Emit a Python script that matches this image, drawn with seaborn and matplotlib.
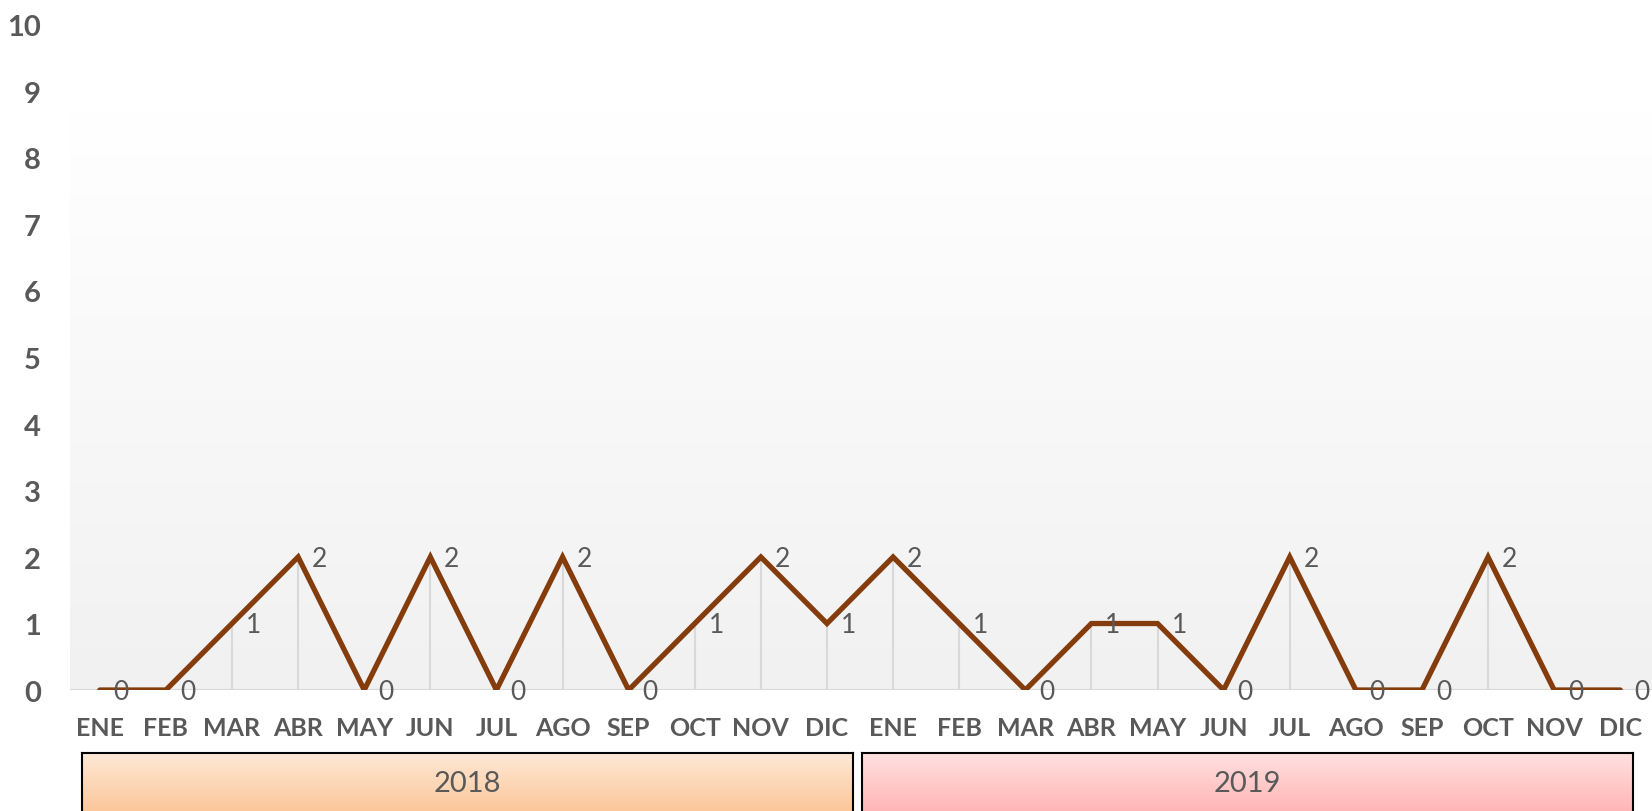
import numpy as np
import pandas as pd
import matplotlib
matplotlib.use("Agg")
import matplotlib.pyplot as plt
import seaborn as sns
from matplotlib.colors import LinearSegmentedColormap

# data
months = ["ENE", "FEB", "MAR", "ABR", "MAY", "JUN", "JUL", "AGO", "SEP", "OCT", "NOV", "DIC"]
years = ["2018", "2019"]
values_2018 = [0, 0, 1, 2, 0, 2, 0, 2, 0, 1, 2, 1]
values_2019 = [2, 1, 0, 1, 1, 0, 2, 0, 0, 2, 0, 0]

labels = months + months
values = values_2018 + values_2019
data = pd.DataFrame({"pos": range(len(values)), "value": values})

sns.set_theme(style="white")
plt.rcParams["font.family"] = ["Lato", "DejaVu Sans"]

grey = "#595959"
line_color = "#843C0C"

fig = plt.figure(figsize=(16.52, 8.12), dpi=100)
ax = fig.add_axes([0.0424, 0.149, 0.9576, 0.819])

# plot area gradient (white top -> light grey bottom)
grad = np.linspace(0, 1, 256).reshape(-1, 1)
bg_cmap = LinearSegmentedColormap.from_list("bg", ["#ffffff", "#f1f1f1"])
ax.imshow(grad, aspect="auto", cmap=bg_cmap, extent=[-0.45, 23.48, 0, 8.7],
          origin="upper", zorder=0)

# drop lines
ax.vlines(data["pos"], 0, data["value"], color="#d9d9d9", lw=1.5, zorder=1)
ax.axhline(0, color="#d9d9d9", lw=1.5, zorder=1)

sns.lineplot(data=data, x="pos", y="value", color=line_color, lw=3.8, ax=ax, zorder=3)
ax.lines[-1].set_solid_joinstyle("miter")

for x, v in zip(data["pos"], data["value"]):
    ax.annotate(str(v), (x, v), xytext=(10, -1), textcoords="offset points",
                ha="left", va="center", fontsize=19, color=grey, zorder=4)

ax.set_xlim(-0.45, 23.48)
ax.set_ylim(0, 10)
ax.set_yticks(range(0, 11))
ax.set_xticks(data["pos"])
ax.set_xticklabels(labels)
ax.tick_params(axis="y", length=0, pad=21, labelsize=21, labelcolor=grey)
ax.tick_params(axis="x", length=0, pad=19, labelsize=18, labelcolor=grey)
for t in ax.get_xticklabels() + ax.get_yticklabels():
    t.set_fontweight("bold")
ax.set_xlabel("")
ax.set_ylabel("")
for s in ax.spines.values():
    s.set_visible(False)
ax.grid(False)

# year boxes below the axis
box_colors = [["#fee9d6", "#fbbd8a"], ["#ffe1e1", "#ffa9a9"]]
box_left = [0.0496, 0.5218]
for yr, left, cols in zip(years, box_left, box_colors):
    bax = fig.add_axes([left, -0.02, 0.4667, 0.091])
    cmap = LinearSegmentedColormap.from_list("yr" + yr, cols)
    bax.imshow(grad, aspect="auto", cmap=cmap, extent=[0, 1, 0, 1], origin="upper")
    bax.set_xticks([])
    bax.set_yticks([])
    for s in bax.spines.values():
        s.set_color("black")
        s.set_linewidth(1.5)
    bax.text(0.5, 0.6, yr, ha="center", va="center", fontsize=21, color=grey,
             transform=bax.transAxes)

plt.savefig("out.png", dpi=100)
